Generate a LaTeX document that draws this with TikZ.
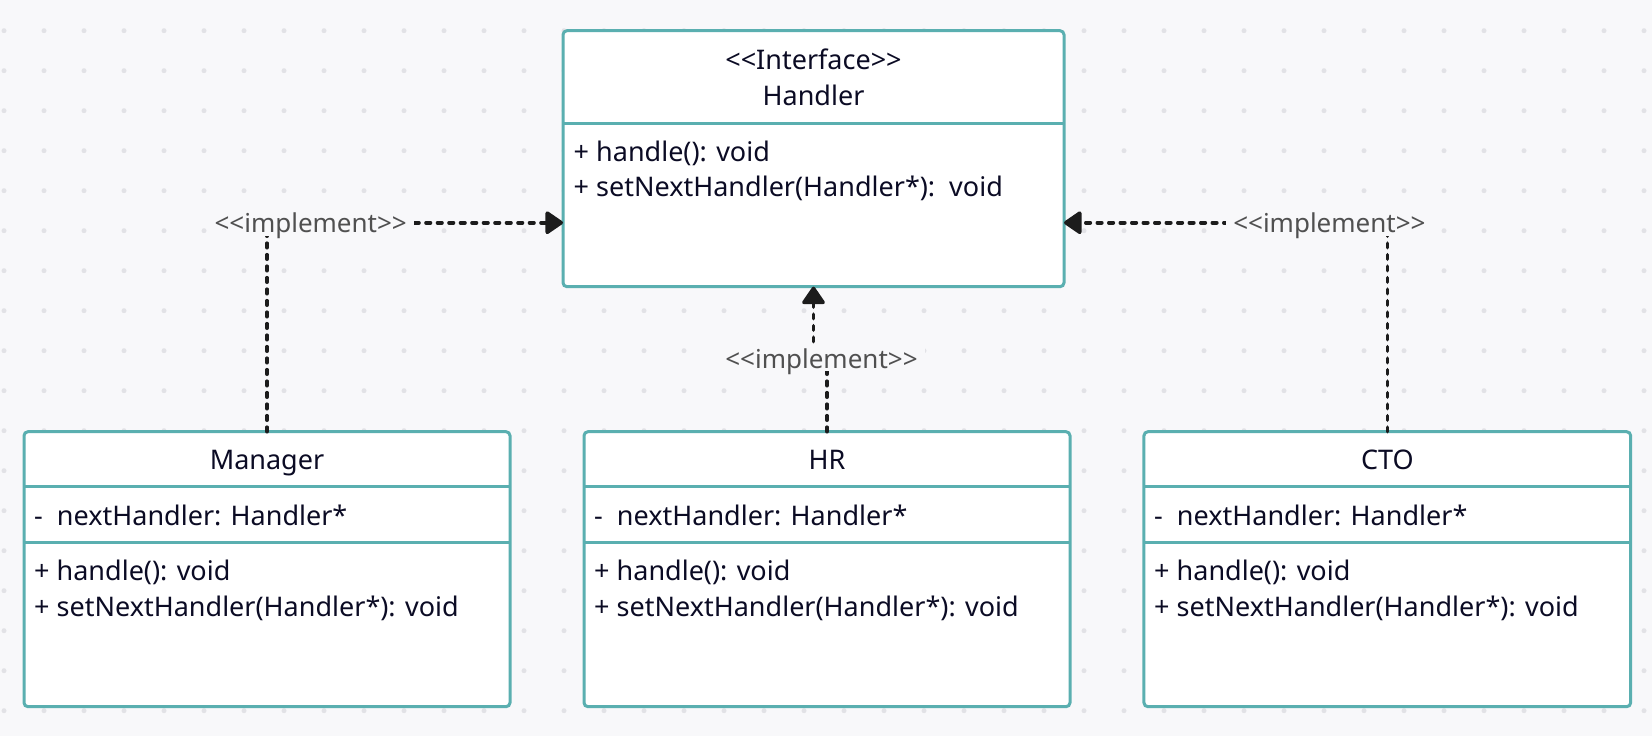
\documentclass[tikz,border=0pt]{standalone}
\usepackage{fontspec}
\setmainfont{Noto Sans}[Ligatures=TeXOff]
\usetikzlibrary{calc,arrows.meta,positioning}
\definecolor{canvas}{HTML}{F8F8FA}
\definecolor{griddot}{HTML}{E2E2E6}
\definecolor{umlteal}{HTML}{5AAFB0}
\definecolor{umltext}{HTML}{0B0B24}
\definecolor{lbltext}{HTML}{505050}
\definecolor{linkc}{HTML}{1C1C1C}
\tikzset{
	classbox/.style={draw=umlteal, fill=white, line width=3pt, rounded corners=4pt, inner sep=0pt, outer sep=0pt, minimum width=486pt, minimum height=275pt},
	divider/.style={draw=umlteal, line width=3pt},
	member/.style={anchor=base west, inner sep=0pt, text=umltext, font=\fontsize{27}{36}\selectfont},
	headtext/.style={anchor=base, inner sep=0pt, text=umltext, font=\fontsize{27}{36}\selectfont},
	realize/.style={draw=linkc, line width=3.6pt, line cap=round, line join=round, dash pattern=on 4.5pt off 7pt, -{Triangle[length=19pt,width=25pt,round]}},
	stereo/.style={anchor=base, fill=canvas, text=lbltext, font=\fontsize{26}{30}\selectfont, inner xsep=7pt, inner ysep=3pt, text height=20pt, text depth=0pt}
}

\begin{document}
\begin{tikzpicture}[x=1pt, y=-1pt]
		%%%%% START %%%%%
		
		\useasboundingbox (0, 0) rectangle (1652, 736);
		\fill[canvas] (0, 0) rectangle (1652, 736);
		\foreach \i in {0,...,41}
			\foreach \j in {0,...,17}
				\fill[griddot] (4+40*\i, 30.7+40*\j) circle (2.5pt);
		
		% interface
		\node[classbox, minimum width=501pt, minimum height=256pt] (Handler) at (813.5, 158.7) {};
		\draw[divider] (563, 123) -- (1064, 123);
		\node[headtext] (handlerStereo) at (813.5, 69.3) {<<Interface>>};
		\node[headtext] (handlerName) at (813.5, 105) {Handler};
		\node[member] (handlerOpA) at (573.5, 161.7) {+ handle(): void};
		\node[member] (handlerOpB) at (573.5, 196.7) {+ setNextHandler(Handler*):\ \ void};
		
		% Manager
		\node[classbox] (Manager) at (267, 569.2) {};
		\draw[divider] (24, 486.7) -- (510, 486.7);
		\draw[divider] (24, 542.7) -- (510, 542.7);
		\node[headtext] (managerName) at (267, 469.3) {Manager};
		\node[member] (managerAttr) at (34, 525) {-\ \ nextHandler: Handler*};
		\node[member] (managerOpA) at (34, 580.7) {+ handle(): void};
		\node[member] (managerOpB) at (34, 616.7) {+ setNextHandler(Handler*): void};
		
		% HR
		\node[classbox] (HR) at (827, 569.2) {};
		\draw[divider] (584, 486.7) -- (1070, 486.7);
		\draw[divider] (584, 542.7) -- (1070, 542.7);
		\node[headtext] (hrName) at (827, 469.3) {HR};
		\node[member] (hrAttr) at (594, 525) {-\ \ nextHandler: Handler*};
		\node[member] (hrOpA) at (594, 580.7) {+ handle(): void};
		\node[member] (hrOpB) at (594, 616.7) {+ setNextHandler(Handler*): void};
		
		% CTO
		\node[classbox, minimum width=486.7pt] (CTO) at (1387.3, 569.2) {};
		\draw[divider] (1144, 486.7) -- (1630.7, 486.7);
		\draw[divider] (1144, 542.7) -- (1630.7, 542.7);
		\node[headtext] (ctoName) at (1387.3, 469.3) {CTO};
		\node[member] (ctoAttr) at (1154, 525) {-\ \ nextHandler: Handler*};
		\node[member] (ctoOpA) at (1154, 580.7) {+ handle(): void};
		\node[member] (ctoOpB) at (1154, 616.7) {+ setNextHandler(Handler*): void};
		
		% realizations
		\coordinate (jogHR) at (821.5, 358.3);
		\draw[realize] (Manager.north) |- ($(Handler.west)+(0, 64)$);
		\draw[realize] (CTO.north) |- ($(Handler.east)+(0, 64)$);
		\draw[realize] (HR.north) |- (jogHR) -| (Handler.south);
		
		\node[stereo] (implManager) at (310.7, 232.7) {<<implement>>};
		\node[stereo] (implCTO) at (1329.4, 232.7) {<<implement>>};
		\node[stereo] (implHR) at (821.5, 368.3) {<<implement>>};
		
		%%%%% END %%%%%
\end{tikzpicture}
\end{document}
